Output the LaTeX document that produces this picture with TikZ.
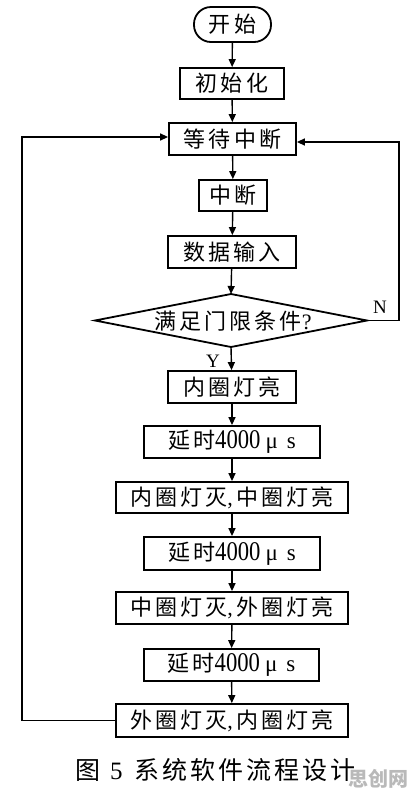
\documentclass[tikz,border=0pt]{standalone}
\usepackage{fontspec}
\usepackage{graphicx}
\setmainfont{Liberation Serif}
\newfontfamily\cjk[LetterSpace=14]{Noto Sans CJK SC}
\newfontfamily\cjkcap[LetterSpace=12]{Noto Sans CJK SC}
\newfontfamily\cjkmark{Noto Sans CJK SC}
\usetikzlibrary{arrows.meta}
\begin{document}
\begin{tikzpicture}[x=1pt,y=-1pt,
  boxtext/.style={font=\fontsize{22}{26}\selectfont\cjk},
  box/.style={draw, line width=1.8pt, minimum width=#1, minimum height=32pt, inner sep=0pt, boxtext},
  flow/.style={line width=1.4pt, -{Triangle[length=8pt,width=7pt]}},
  shapeline/.style={line width=1.8pt},
  lbl/.style={font=\fontsize{19}{22}\selectfont, inner sep=0pt}]
\useasboundingbox (0,0) rectangle (412,796);
\newcommand{\delaytext}{{\cjk 延时}{\rmfamily\fontsize{27}{28}\selectfont\scalebox{0.84}[1]{4000}\hspace{5pt}{\fontsize{23}{26}\selectfont μ\hspace{9pt}s}}}
\newcommand{\cm}{{\rmfamily,}\hspace{4pt}}

\node[draw, line width=1.8pt, rounded corners=17pt, minimum width=77pt, minimum height=35pt, inner sep=0pt, boxtext] (start) at (232.5,24.5) {开始};
\node[box=104pt, minimum height=31pt] (init) at (232,83.5) {初始化};
\node[box=127pt] (wait) at (232.5,139) {等待中断};
\node[box=68pt, minimum height=31pt] (intr) at (233,195.5) {中断};
\node[box=128pt] (input) at (232,252) {数据输入};

\coordinate (condL) at (95,320.5);
\coordinate (condT) at (231,294);
\coordinate (condR) at (367,320.5);
\coordinate (condB) at (231,347);
\draw[shapeline] (condL) -- (condT) -- (condR) -- (condB) -- cycle;
\node[boxtext, inner sep=0pt] (cond) at (233,321) {满足门限条件{\rmfamily ?}};

\node[box=128pt] (on1) at (232,387) {内圈灯亮};
\node[box=176pt] (d1) at (232,442) {\delaytext};
\node[box=232pt, minimum height=31pt] (s2) at (232,497.5) {内圈灯灭\cm 中圈灯亮};
\node[box=176pt, minimum height=33pt] (d2) at (232,553.5) {\delaytext};
\node[box=232pt] (s3) at (232,608) {中圈灯灭\cm 外圈灯亮};
\node[box=175pt] (d3) at (231.5,665) {\delaytext};
\node[box=232pt, minimum height=33pt] (s4) at (232,720.5) {外圈灯灭\cm 内圈灯亮};

\draw[flow] (start) -- (init);
\draw[flow] (init) -- (wait);
\draw[flow] (wait) -- (intr);
\draw[flow] (intr) -- (input);
\draw[flow] (input) -- (condT);
\draw[flow] (condB) -- (on1);
\draw[flow] (on1) -- (d1);
\draw[flow] (d1) -- (s2);
\draw[flow] (s2) -- (d2);
\draw[flow] (d2) -- (s3);
\draw[flow] (s3) -- (d3);
\draw[flow] (d3) -- (s4);

\draw[flow] (condR) -- ++(32,0) |- ([yshift=-3pt]wait.east);
\draw[flow] (s4.west) -- ++(-93,0) |- ([yshift=2pt]wait.west);

\node[lbl] (nlab) at (380,307) {N};
\node[lbl] (ylab) at (213,361) {Y};

\node[anchor=west, inner sep=0pt, font=\fontsize{25}{28}\selectfont] (cap) at (75,770)
  {{\cjkcap 图}\hspace{10pt}5\hspace{12pt}{\cjkcap 系统软件流程设计}};
\node[inner sep=0pt, text=gray!55, font=\fontsize{20}{24}\selectfont\cjkmark\bfseries] (mark) at (378,779) {思创网};
\end{tikzpicture}
\end{document}
